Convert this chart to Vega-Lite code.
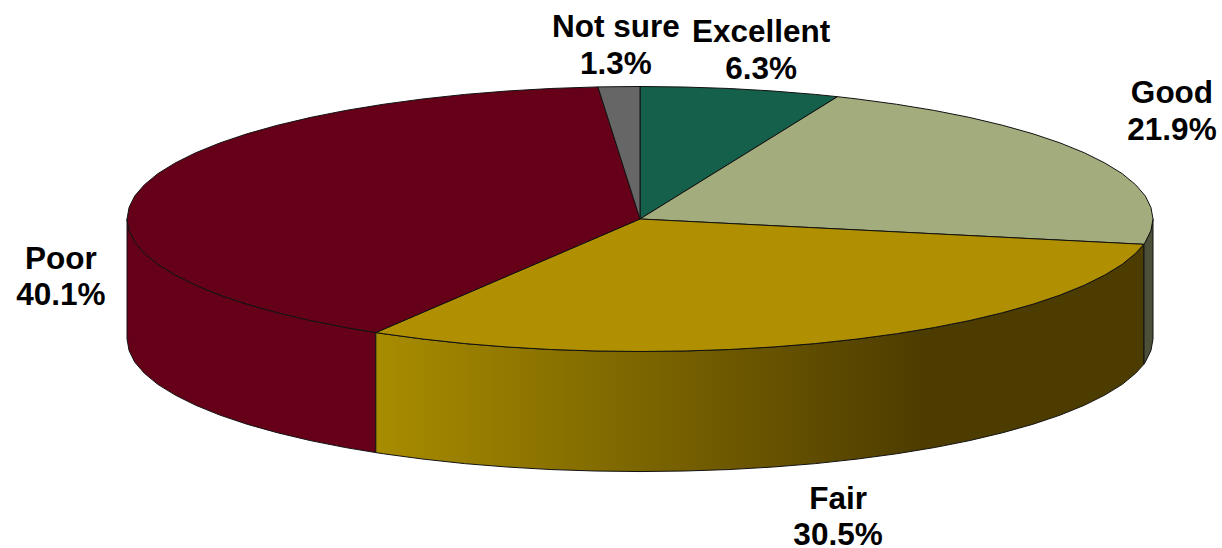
{
"$schema":"https://vega.github.io/schema/vega-lite/v6.json",
"width":1222,"height":548,"padding":0,"autosize":{"type":"none"},
"background":"white","view":{"stroke":null},
"datasets":{
"side":[
{"slice":"Poor","u":-1,"v":0,"vb":-0.906},{"slice":"Poor","u":-0.996,"v":-0.087,"vb":-0.993},{"slice":"Poor","u":-0.985,"v":-0.174,"vb":-1.08},{"slice":"Poor","u":-0.966,"v":-0.259,"vb":-1.165},{"slice":"Poor","u":-0.94,"v":-0.342,"vb":-1.248},{"slice":"Poor","u":-0.906,"v":-0.423,"vb":-1.329},{"slice":"Poor","u":-0.866,"v":-0.5,"vb":-1.406},{"slice":"Poor","u":-0.819,"v":-0.574,"vb":-1.48},{"slice":"Poor","u":-0.766,"v":-0.643,"vb":-1.549},{"slice":"Poor","u":-0.707,"v":-0.707,"vb":-1.613},{"slice":"Poor","u":-0.643,"v":-0.766,"vb":-1.672},{"slice":"Poor","u":-0.574,"v":-0.819,"vb":-1.725},{"slice":"Poor","u":-0.515,"v":-0.857,"vb":-1.763},
{"slice":"Fair","u":-0.515,"v":-0.857,"vb":-1.763},{"slice":"Fair","u":-0.5,"v":-0.866,"vb":-1.772},{"slice":"Fair","u":-0.423,"v":-0.906,"vb":-1.812},{"slice":"Fair","u":-0.342,"v":-0.94,"vb":-1.846},{"slice":"Fair","u":-0.259,"v":-0.966,"vb":-1.872},{"slice":"Fair","u":-0.174,"v":-0.985,"vb":-1.891},{"slice":"Fair","u":-0.087,"v":-0.996,"vb":-1.902},{"slice":"Fair","u":0,"v":-1,"vb":-1.906},{"slice":"Fair","u":0.087,"v":-0.996,"vb":-1.902},{"slice":"Fair","u":0.174,"v":-0.985,"vb":-1.891},{"slice":"Fair","u":0.259,"v":-0.966,"vb":-1.872},{"slice":"Fair","u":0.342,"v":-0.94,"vb":-1.846},{"slice":"Fair","u":0.423,"v":-0.906,"vb":-1.812},{"slice":"Fair","u":0.5,"v":-0.866,"vb":-1.772},{"slice":"Fair","u":0.574,"v":-0.819,"vb":-1.725},{"slice":"Fair","u":0.643,"v":-0.766,"vb":-1.672},{"slice":"Fair","u":0.707,"v":-0.707,"vb":-1.613},{"slice":"Fair","u":0.766,"v":-0.643,"vb":-1.549},{"slice":"Fair","u":0.819,"v":-0.574,"vb":-1.48},{"slice":"Fair","u":0.866,"v":-0.5,"vb":-1.406},{"slice":"Fair","u":0.906,"v":-0.423,"vb":-1.329},{"slice":"Fair","u":0.94,"v":-0.342,"vb":-1.248},{"slice":"Fair","u":0.966,"v":-0.259,"vb":-1.165},{"slice":"Fair","u":0.982,"v":-0.191,"vb":-1.097},
{"slice":"Good","u":0.982,"v":-0.191,"vb":-1.097},{"slice":"Good","u":0.985,"v":-0.174,"vb":-1.08},{"slice":"Good","u":0.996,"v":-0.087,"vb":-0.993},{"slice":"Good","u":1,"v":0,"vb":-0.906}
],
"top":[
{"slice":"Excellent","n":0,"u":0,"v":0},{"slice":"Excellent","n":1,"u":0,"v":1},{"slice":"Excellent","n":2,"u":0.087,"v":0.996},{"slice":"Excellent","n":3,"u":0.174,"v":0.985},{"slice":"Excellent","n":4,"u":0.259,"v":0.966},{"slice":"Excellent","n":5,"u":0.342,"v":0.94},{"slice":"Excellent","n":6,"u":0.385,"v":0.923},{"slice":"Excellent","n":7,"u":0,"v":0},
{"slice":"Good","n":0,"u":0,"v":0},{"slice":"Good","n":1,"u":0.385,"v":0.923},{"slice":"Good","n":2,"u":0.423,"v":0.906},{"slice":"Good","n":3,"u":0.5,"v":0.866},{"slice":"Good","n":4,"u":0.574,"v":0.819},{"slice":"Good","n":5,"u":0.643,"v":0.766},{"slice":"Good","n":6,"u":0.707,"v":0.707},{"slice":"Good","n":7,"u":0.766,"v":0.643},{"slice":"Good","n":8,"u":0.819,"v":0.574},{"slice":"Good","n":9,"u":0.866,"v":0.5},{"slice":"Good","n":10,"u":0.906,"v":0.423},{"slice":"Good","n":11,"u":0.94,"v":0.342},{"slice":"Good","n":12,"u":0.966,"v":0.259},{"slice":"Good","n":13,"u":0.985,"v":0.174},{"slice":"Good","n":14,"u":0.996,"v":0.087},{"slice":"Good","n":15,"u":1,"v":0},{"slice":"Good","n":16,"u":0.996,"v":-0.087},{"slice":"Good","n":17,"u":0.985,"v":-0.174},{"slice":"Good","n":18,"u":0.982,"v":-0.191},{"slice":"Good","n":19,"u":0,"v":0},
{"slice":"Fair","n":0,"u":0,"v":0},{"slice":"Fair","n":1,"u":0.982,"v":-0.191},{"slice":"Fair","n":2,"u":0.966,"v":-0.259},{"slice":"Fair","n":3,"u":0.94,"v":-0.342},{"slice":"Fair","n":4,"u":0.906,"v":-0.423},{"slice":"Fair","n":5,"u":0.866,"v":-0.5},{"slice":"Fair","n":6,"u":0.819,"v":-0.574},{"slice":"Fair","n":7,"u":0.766,"v":-0.643},{"slice":"Fair","n":8,"u":0.707,"v":-0.707},{"slice":"Fair","n":9,"u":0.643,"v":-0.766},{"slice":"Fair","n":10,"u":0.574,"v":-0.819},{"slice":"Fair","n":11,"u":0.5,"v":-0.866},{"slice":"Fair","n":12,"u":0.423,"v":-0.906},{"slice":"Fair","n":13,"u":0.342,"v":-0.94},{"slice":"Fair","n":14,"u":0.259,"v":-0.966},{"slice":"Fair","n":15,"u":0.174,"v":-0.985},{"slice":"Fair","n":16,"u":0.087,"v":-0.996},{"slice":"Fair","n":17,"u":0,"v":-1},{"slice":"Fair","n":18,"u":-0.087,"v":-0.996},{"slice":"Fair","n":19,"u":-0.174,"v":-0.985},{"slice":"Fair","n":20,"u":-0.259,"v":-0.966},{"slice":"Fair","n":21,"u":-0.342,"v":-0.94},{"slice":"Fair","n":22,"u":-0.423,"v":-0.906},{"slice":"Fair","n":23,"u":-0.5,"v":-0.866},{"slice":"Fair","n":24,"u":-0.515,"v":-0.857},{"slice":"Fair","n":25,"u":0,"v":0},
{"slice":"Poor","n":0,"u":0,"v":0},{"slice":"Poor","n":1,"u":-0.515,"v":-0.857},{"slice":"Poor","n":2,"u":-0.574,"v":-0.819},{"slice":"Poor","n":3,"u":-0.643,"v":-0.766},{"slice":"Poor","n":4,"u":-0.707,"v":-0.707},{"slice":"Poor","n":5,"u":-0.766,"v":-0.643},{"slice":"Poor","n":6,"u":-0.819,"v":-0.574},{"slice":"Poor","n":7,"u":-0.866,"v":-0.5},{"slice":"Poor","n":8,"u":-0.906,"v":-0.423},{"slice":"Poor","n":9,"u":-0.94,"v":-0.342},{"slice":"Poor","n":10,"u":-0.966,"v":-0.259},{"slice":"Poor","n":11,"u":-0.985,"v":-0.174},{"slice":"Poor","n":12,"u":-0.996,"v":-0.087},{"slice":"Poor","n":13,"u":-1,"v":0},{"slice":"Poor","n":14,"u":-0.996,"v":0.087},{"slice":"Poor","n":15,"u":-0.985,"v":0.174},{"slice":"Poor","n":16,"u":-0.966,"v":0.259},{"slice":"Poor","n":17,"u":-0.94,"v":0.342},{"slice":"Poor","n":18,"u":-0.906,"v":0.423},{"slice":"Poor","n":19,"u":-0.866,"v":0.5},{"slice":"Poor","n":20,"u":-0.819,"v":0.574},{"slice":"Poor","n":21,"u":-0.766,"v":0.643},{"slice":"Poor","n":22,"u":-0.707,"v":0.707},{"slice":"Poor","n":23,"u":-0.643,"v":0.766},{"slice":"Poor","n":24,"u":-0.574,"v":0.819},{"slice":"Poor","n":25,"u":-0.5,"v":0.866},{"slice":"Poor","n":26,"u":-0.423,"v":0.906},{"slice":"Poor","n":27,"u":-0.342,"v":0.94},{"slice":"Poor","n":28,"u":-0.259,"v":0.966},{"slice":"Poor","n":29,"u":-0.174,"v":0.985},{"slice":"Poor","n":30,"u":-0.082,"v":0.997},{"slice":"Poor","n":31,"u":0,"v":0},
{"slice":"Not sure","n":0,"u":0,"v":0},{"slice":"Not sure","n":1,"u":-0.082,"v":0.997},{"slice":"Not sure","n":2,"u":0,"v":1},{"slice":"Not sure","n":3,"u":0,"v":0}
],
"labels":[
{"label":"Not sure\n1.3%","u":-0.047,"v":1.438},
{"label":"Excellent\n6.3%","u":0.236,"v":1.4},
{"label":"Good\n21.9%","u":1.037,"v":0.94},
{"label":"Poor\n40.1%","u":-1.129,"v":-0.306},
{"label":"Fair\n30.5%","u":0.386,"v":-2.117}
]
},
"encoding":{
"x":{"field":"u","type":"quantitative","axis":null,"scale":{"domain":[-1.2476,1.1345],"nice":false,"zero":false}},
"y":{"field":"v","type":"quantitative","axis":null,"scale":{"domain":[-2.483,1.6528],"nice":false,"zero":false}}
},
"layer":[
{"data":{"name":"side"},"transform":[{"filter":"datum.slice !== 'Fair'"}],
 "mark":{"type":"area","stroke":"#111111","strokeWidth":1},
 "encoding":{"y2":{"field":"vb"},
 "color":{"field":"slice","type":"nominal","legend":null,"scale":{"domain":["Poor","Good"],"range":["#660018","#4C5038"]}}}},
{"data":{"name":"side"},"transform":[{"filter":"datum.slice === 'Fair'"}],
 "mark":{"type":"area","stroke":"#111111","strokeWidth":1,
 "color":{"gradient":"linear","x1":0,"y1":0,"x2":1,"y2":0,"stops":[{"offset":0,"color":"#A88C00"},{"offset":0.715,"color":"#4D3C00"},{"offset":1,"color":"#4D3C00"}]}},
 "encoding":{"y2":{"field":"vb"}}},
{"data":{"name":"top"},
 "mark":{"type":"line","filled":true,"stroke":"#111111","strokeWidth":1},
 "encoding":{"order":{"field":"n","type":"quantitative"},
 "detail":{"field":"slice"},
 "fill":{"field":"slice","type":"nominal","legend":null,"scale":{"domain":["Excellent","Good","Fair","Poor","Not sure"],"range":["#14604A","#A3AC7C","#B09000","#660018","#666666"]}}}},
{"data":{"name":"labels"},
 "mark":{"type":"text","font":"Liberation Sans","fontWeight":"bold","fontSize":31.5,"lineHeight":36.5,"lineBreak":"\n","align":"center","baseline":"middle","color":"black"},
 "encoding":{"text":{"field":"label"}}}
]
}
